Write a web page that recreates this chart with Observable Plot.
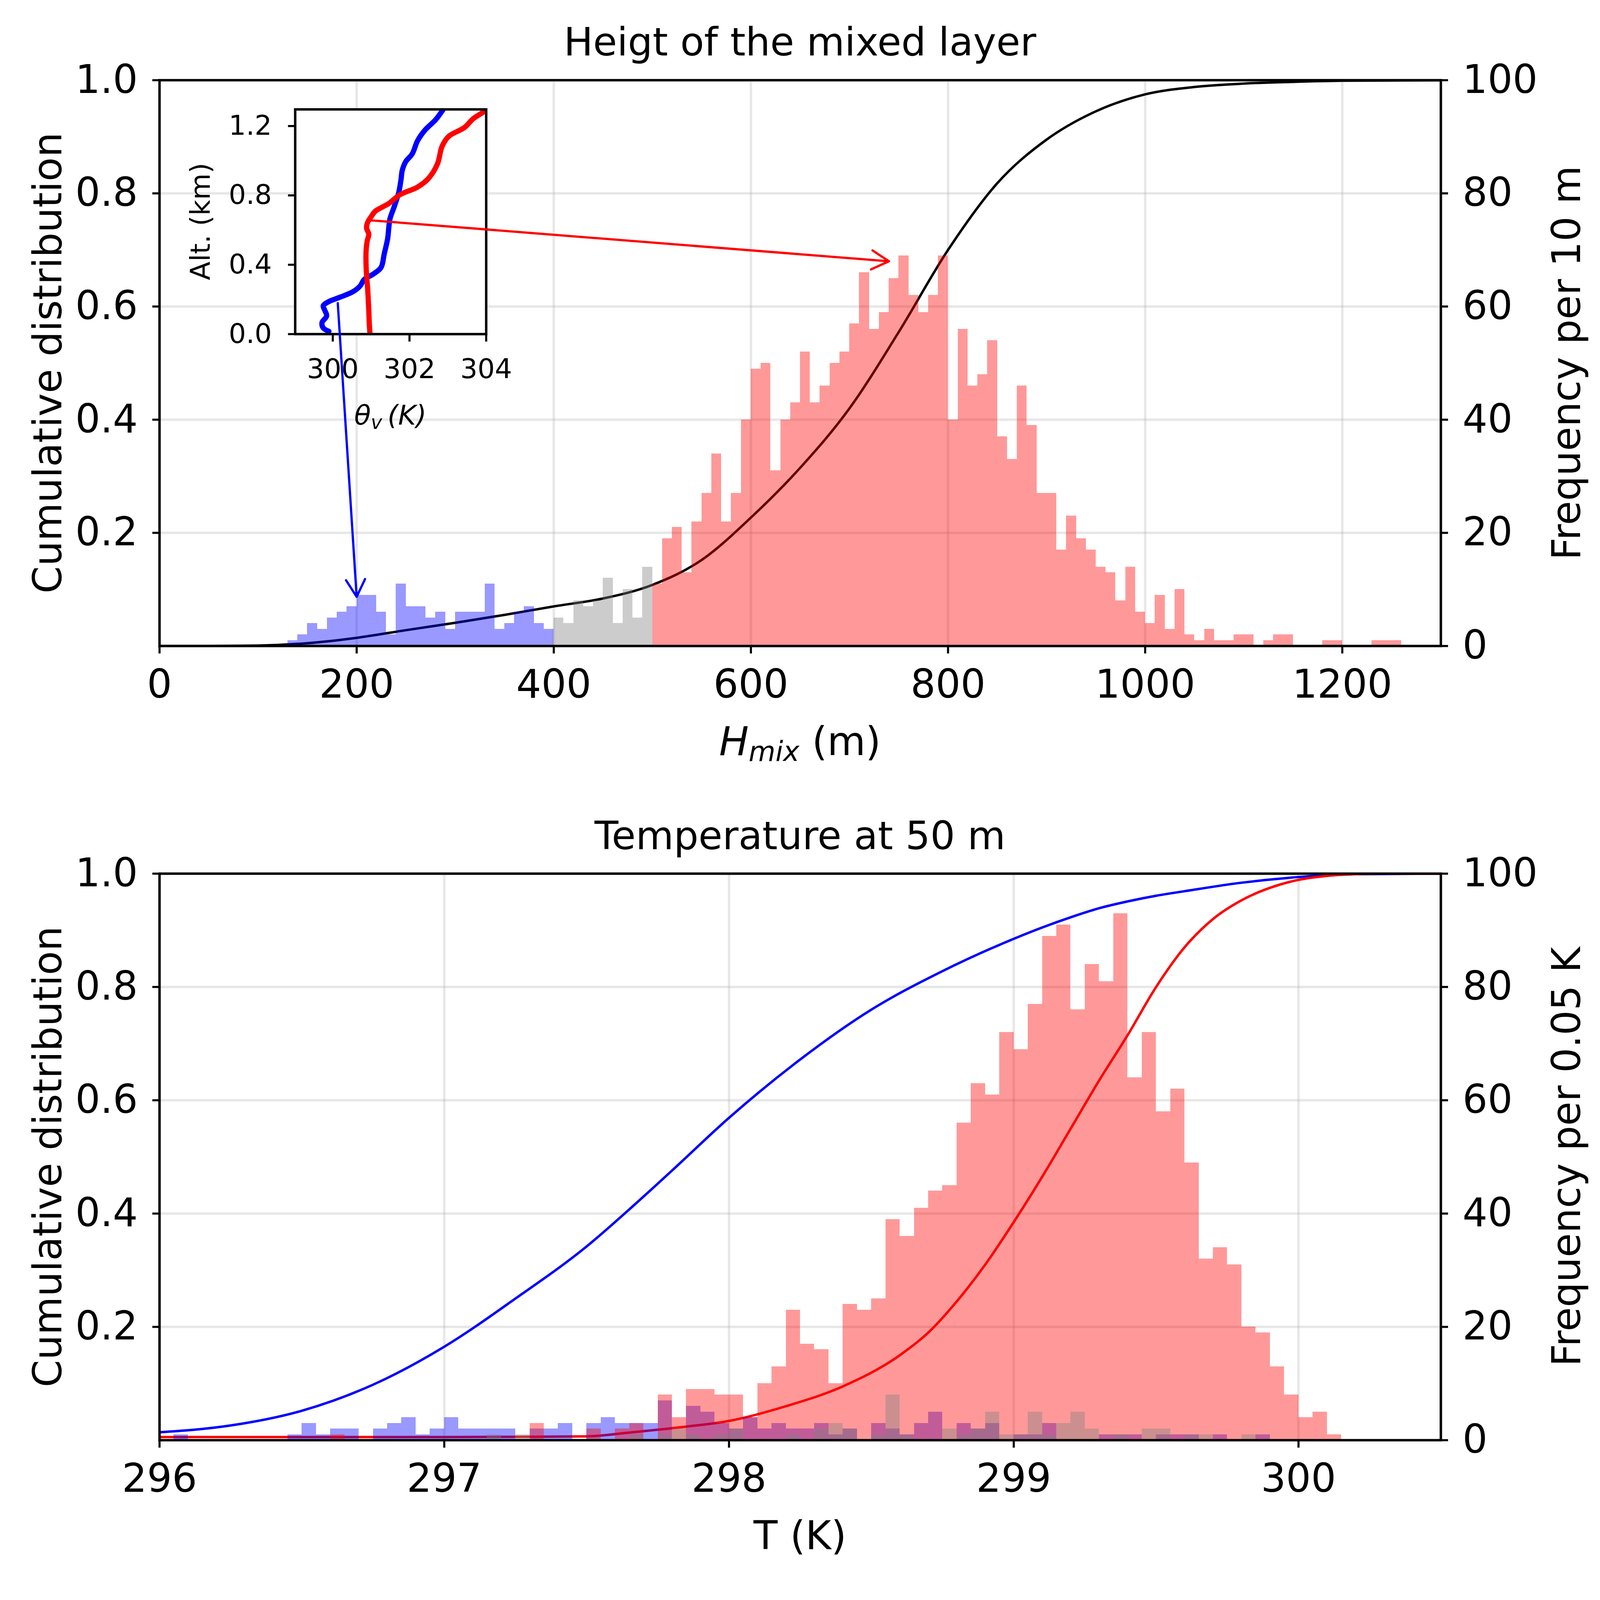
<!DOCTYPE html>
<html><head><meta charset="utf-8">
<script src="https://cdn.jsdelivr.net/npm/d3@7"></script>
<script src="https://cdn.jsdelivr.net/npm/@observablehq/plot@0.6"></script>
<style>
html,body{margin:0;padding:0;background:#fff;overflow:hidden;}
#fig{position:absolute;left:0;top:0;background:#fff;overflow:hidden;}
</style></head><body><div id="fig"></div>
<script>
// ---------------- DATA ----------------
// Top panel: mixed-layer height histograms (counts per 10 m bin)
const hmixBinWidth = 10;
const hmixBlueStart = 130;
const hmixBlueCounts = [1,2,4,3,5,6,7,9,9,6,2,11,7,7,5,6,3,6,6,6,11,3,4,6,7,4,3];
const hmixGrayStart = 400;
const hmixGrayCounts = [5,4,8,7,8,12,4,10,5,14];
const hmixRedStart = 500;
const hmixRedCounts = [11,19,21,13,22,27,34,22,27,40, 49,50,31,40,43,52,43,46,50,52,
  57,66,56,59,65,69,62,59,62,69, 40,56,46,48,54,37,33,46,39,27,
  27,17,23,19,17,14,13,8,14,6, 4,9,3,10,2,1,3,1,1,2,
  2,0,1,2,2,0,0,0,1,1, 0,0,0,1,1,1];
// Top panel: cumulative distribution (black)
const hmixCdfX = [0,50,100,150,200,250,300,350,400,450,500,550,600,650,700,750,800,850,900,950,1000,1050,1100,1150,1200,1300];
const hmixCdfY = [0,0,0.0008,0.005,0.0145,0.028,0.041,0.055,0.07,0.084,0.108,0.152,0.227,0.315,0.42,0.555,0.70,0.818,0.895,0.945,0.975,0.988,0.994,0.997,0.999,1.0];
const hmixTicks = [0,200,400,600,800,1000,1200];

// Inset: virtual potential temperature profiles (theta_v in K, altitude in km)
const profBlueTheta = [299.90,299.75,299.72,299.84,299.78,299.75,299.90,300.19,300.53,300.71,300.82,301.06,301.26,301.34,301.43,301.46,301.49,301.61,301.72,301.78,301.81,301.90,302.07,302.21,302.41,302.68,302.88];
const profBlueAlt   = [0.016,0.036,0.067,0.105,0.143,0.163,0.188,0.213,0.245,0.277,0.315,0.347,0.385,0.461,0.55,0.613,0.664,0.740,0.817,0.893,0.943,0.994,1.039,1.115,1.178,1.236,1.296];
const profRedTheta  = [300.97,300.95,300.94,300.91,300.87,300.87,300.90,300.94,300.88,300.91,301.0,301.11,301.46,301.75,302.21,302.50,302.73,302.85,303.02,303.43,303.66,303.92,304.0];
const profRedAlt    = [0.0,0.07,0.131,0.258,0.385,0.486,0.54,0.575,0.613,0.645,0.677,0.709,0.753,0.804,0.848,0.899,0.982,1.083,1.140,1.191,1.242,1.280,1.296];
const insetXTicks = [300,302,304];
const insetYTicks = [0,0.4,0.8,1.2];

// Annotation arrows: from inset point (theta, alt) to main-panel point (Hmix, cdf)
const arrowRedFrom = [301.03, 0.655], arrowRedTo = [740, 0.68];
const arrowBlueFrom = [300.13, 0.178], arrowBlueTo = [200, 0.087];

// Bottom panel: temperature histograms (counts per 0.05 K, bins from 296.00)
const tempBinStart = 296, tempBinWidth = 0.05;
const tempBlueCounts = [0,1,0,0,0,0,0,0,0,1, 3,1,2,2,0,2,3,4,1,2,
  4,2,2,2,2,0,2,2,3,0, 3,4,3,3,3,7,0,6,5,3,
  2,4,2,3,2,2,3,1,2,0, 3,2,1,3,5,0,3,2,3,0,
  1,1,3,0,0,0,1,1,1,0, 1,1,1,0,1,0,0,1,0,0, 0,0,0,0];
const tempRedCounts = [0,0,0,0,0,0,0,0,0,0, 0,0,1,0,0,0,0,0,0,0,
  0,0,0,0,0,0,3,0,0,0, 2,0,2,3,0,8,4,9,9,8,
  8,4,10,13,23,17,16,10,24,23, 25,39,36,41,44,45,56,63,61,72,
  69,77,89,91,76,84,81,93,64,72, 58,62,49,32,34,31,20,19,13,8, 4,5,1,0];
const tempGrayCounts = [0,0,0,0,0,0,0,0,0,0, 0,0,0,0,0,0,0,0,0,0,
  0,0,0,1,0,1,0,0,0,0, 0,0,0,1,0,1,2,1,0,1,
  2,0,0,0,1,0,2,3,2,0, 1,8,1,0,0,2,1,2,5,1,
  1,5,1,3,5,2,0,1,0,2, 2,0,1,1,0,0,1,0,0,0, 0,0,0,0];
// Bottom panel: cumulative distributions
const tempBlueCdfX = [296.0,296.25,296.5,296.75,297.0,297.25,297.5,297.66,297.8,298.0,298.25,298.5,298.75,299.0,299.1,299.2,299.3,299.4,299.5,299.6,299.8,300.0,300.2,300.5];
const tempBlueCdfY = [0.014,0.026,0.052,0.098,0.165,0.25,0.342,0.412,0.476,0.569,0.672,0.76,0.828,0.885,0.905,0.923,0.939,0.951,0.961,0.969,0.984,0.994,0.999,1.0];
const tempRedCdfX = [296.0,296.5,297.0,297.3,297.5,297.66,297.85,298.0,298.2,298.4,298.6,298.7,298.8,298.9,299.0,299.1,299.2,299.3,299.4,299.5,299.6,299.7,299.8,299.9,300.0,300.1,300.2,300.3,300.5];
const tempRedCdfY = [0.0055,0.0055,0.0056,0.006,0.0068,0.014,0.024,0.034,0.06,0.095,0.15,0.19,0.245,0.31,0.385,0.465,0.55,0.635,0.715,0.80,0.87,0.92,0.953,0.975,0.989,0.996,0.999,1.0,1.0];
const tempTicks = [296,297,298,299,300];

const cdfTicks = [0.2,0.4,0.6,0.8,1.0];
const freqTicks = [0,0.2,0.4,0.6,0.8,1.0];

// ---------------- LAYOUT (design units 4800 x 4400, fitted to the window) ----------------
const fig = document.getElementById("fig");
const VW = window.innerWidth || document.documentElement.clientWidth || 4800;
const VH = window.innerHeight || document.documentElement.clientHeight || 4400;
const sx = VW/4800, sy = VH/4400, sf = Math.sqrt(sx*sy);
fig.style.width = VW+"px"; fig.style.height = VH+"px";
const X = v => v*sx, Y = v => v*sy, F = v => v*sf;

const FONT = "DejaVu Sans";
const GRID = {stroke:"#b0b0b0", strokeOpacity:0.3, strokeWidth:F(7)};
function tickX(fs){ return {tickSize:Y(21), tickPadding:Y(44), fontSize:F(fs), strokeWidth:F(6), label:null}; }
function tickY(fs){ return {tickSize:X(21), tickPadding:X(44), fontSize:F(fs), strokeWidth:F(6), label:null}; }

function bins(start, width, counts){
  return counts.map((c,i)=>({x1:start+i*width, x2:start+(i+1)*width, f:c/100})).filter(d=>d.f>0);
}
function pts(xs, ys){ return xs.map((x,i)=>({x, y:ys[i]})); }
function hist(data, color){
  return Plot.rect(data,{x1:"x1",x2:"x2",y1:0,y2:"f",fill:color,fillOpacity:0.4,inset:0,shapeRendering:"crispEdges"});
}
function place(el, left, top){
  el.style.position="absolute"; el.style.left=left+"px"; el.style.top=top+"px";
  el.style.overflow="visible";
  fig.appendChild(el); return el;
}
const svgStyle = {background:"transparent", fontFamily:FONT, overflow:"visible", color:"black"};

const PANEL_H = 2000;
function mainPanel({xDomain, xTicks, xGrid, lines, hists, mTop, mBottom}){
  return Plot.plot({
    width:VW, height:Y(PANEL_H), marginLeft:X(478), marginRight:X(478), marginTop:Y(mTop), marginBottom:Y(mBottom),
    x:{domain:xDomain}, y:{domain:[0,1]},
    style:svgStyle,
    marks:[
      Plot.gridX(xGrid, GRID),
      Plot.gridY([0.2,0.4,0.6,0.8], GRID),
      ...lines.map(l=>Plot.line(pts(l.x,l.y),{x:"x",y:"y",stroke:l.color,strokeWidth:F(7),curve:"monotone-x",clip:true})),
      ...hists.map(h=>hist(h.data,h.color)),
      Plot.axisX({...tickX(113), ticks:xTicks, tickFormat:d=>String(d)}),
      Plot.axisY({...tickY(113), anchor:"left", ticks:cdfTicks, tickFormat:d=>d.toFixed(1)}),
      Plot.axisY({...tickY(113), anchor:"right", ticks:freqTicks, tickFormat:d=>String(Math.round(d*100))}),
      Plot.frame({stroke:"black", strokeWidth:F(7)})
    ]
  });
}

// ---------------- TOP PANEL ----------------
const TOP_Y = 0;
const topPlot = mainPanel({
  xDomain:[0,1300], xTicks:hmixTicks, xGrid:hmixTicks.filter(d=>d>0),
  lines:[{x:hmixCdfX, y:hmixCdfY, color:"black"}],
  hists:[
    {data:bins(hmixBlueStart,hmixBinWidth,hmixBlueCounts), color:"blue"},
    {data:bins(hmixGrayStart,hmixBinWidth,hmixGrayCounts), color:"gray"},
    {data:bins(hmixRedStart,hmixBinWidth,hmixRedCounts), color:"red"}
  ],
  mTop:220, mBottom:224
});
place(topPlot, 0, Y(TOP_Y));

// ---------------- INSET ----------------
const INSET_L = X(600), INSET_T = Y(250);
const insetPlot = Plot.plot({
  width:X(900), height:Y(850), marginLeft:X(285), marginRight:X(42), marginTop:Y(50), marginBottom:Y(182),
  x:{domain:[299.02,304]}, y:{domain:[0,1.296]},
  style:svgStyle,
  marks:[
    Plot.frame({fill:"white", stroke:"none"}),
    Plot.line(pts(profBlueTheta,profBlueAlt),{x:"x",y:"y",stroke:"blue",strokeWidth:F(15),curve:"catmull-rom",clip:true}),
    Plot.line(pts(profRedTheta,profRedAlt),{x:"x",y:"y",stroke:"red",strokeWidth:F(15),curve:"catmull-rom",clip:true}),
    Plot.axisX({...tickX(78), tickPadding:Y(47), ticks:insetXTicks, tickFormat:d=>String(d)}),
    Plot.axisY({...tickY(78), tickPadding:X(49), ticks:insetYTicks, tickFormat:d=>d.toFixed(1)}),
    Plot.frame({stroke:"black", strokeWidth:F(7)})
  ]
});
place(insetPlot, INSET_L, INSET_T);

// ---------------- BOTTOM PANEL ----------------
const BOT_Y = 2200;
const botPlot = mainPanel({
  xDomain:[296,300.5], xTicks:tempTicks, xGrid:tempTicks.filter(d=>d>296),
  lines:[{x:tempBlueCdfX, y:tempBlueCdfY, color:"blue"},{x:tempRedCdfX, y:tempRedCdfY, color:"red"}],
  hists:[
    {data:bins(tempBinStart,tempBinWidth,tempBlueCounts), color:"blue"},
    {data:bins(tempBinStart,tempBinWidth,tempRedCounts), color:"red"},
    {data:bins(tempBinStart,tempBinWidth,tempGrayCounts), color:"gray"}
  ],
  mTop:202, mBottom:240
});
place(botPlot, 0, Y(BOT_Y));

// ---------------- ARROWS (overlay in top-panel coordinates) ----------------
const tx = topPlot.scale("x"), ty = topPlot.scale("y");
const ix = insetPlot.scale("x"), iy = insetPlot.scale("y");
function fromInset([th, alt]){
  return [tx.invert(INSET_L + ix.apply(th)), ty.invert(INSET_T + iy.apply(alt) - Y(TOP_Y))];
}
const rF = fromInset(arrowRedFrom), bF = fromInset(arrowBlueFrom);
const arrowOpts = {x1:"x1",y1:"y1",x2:"x2",y2:"y2",strokeWidth:F(6.5),headLength:13,headAngle:58,strokeLinecap:"round",strokeLinejoin:"round"};
const arrowPlot = Plot.plot({
  width:VW, height:Y(PANEL_H), marginLeft:X(478), marginRight:X(478), marginTop:Y(220), marginBottom:Y(224),
  x:{domain:[0,1300], axis:null}, y:{domain:[0,1], axis:null},
  style:svgStyle,
  marks:[
    Plot.arrow([{x1:rF[0],y1:rF[1],x2:arrowRedTo[0],y2:arrowRedTo[1]}],{...arrowOpts, stroke:"red"}),
    Plot.arrow([{x1:bF[0],y1:bF[1],x2:arrowBlueTo[0],y2:arrowBlueTo[1]}],{...arrowOpts, stroke:"blue"})
  ]
});
place(arrowPlot, 0, Y(TOP_Y));

// ---------------- TEXT LABELS ----------------
const T = d3.create("svg").attr("width",VW).attr("height",VH)
  .attr("font-family",FONT).attr("fill","black")
  .style("position","absolute").style("left","0px").style("top","0px").style("overflow","visible");
function txt(x,y,s,size,rot){
  const t = T.append("text").attr("text-anchor","middle").attr("font-size",F(size));
  if (rot) t.attr("transform",`translate(${X(x)},${Y(y)}) rotate(${rot})`);
  else t.attr("x",X(x)).attr("y",Y(y));
  t.text(s); return t;
}
// top panel
txt(2400,153,"Heigt of the mixed layer",112);
{
  const t = T.append("text").attr("x",X(2400)).attr("y",Y(2076)).attr("text-anchor","middle").attr("font-size",F(113));
  t.append("tspan").attr("font-style","italic").text("H");
  t.append("tspan").attr("font-style","italic").attr("font-size",F(79)).attr("dy",F(17)).text("mix");
  t.append("tspan").attr("dy",-F(17)).text("\u00a0(m)");
}
txt(184,998,"Cumulative distribution",113,-90);
txt(4740,998,"Frequency per 10 m",113,-90);
// inset
txt(629,609,"Alt. (km)",78,-90);
{
  const t = T.append("text").attr("x",X(1171)).attr("y",Y(1168)).attr("text-anchor","middle").attr("font-size",F(78)).attr("font-style","italic");
  t.append("tspan").text("\u03b8");
  t.append("tspan").attr("font-size",F(55)).attr("dy",F(12)).text("v");
  t.append("tspan").attr("dy",-F(12)).text("\u2009(K)");
}
// bottom panel
txt(2400,2335,"Temperature at 50 m",112);
txt(2400,4260,"T (K)",113);
txt(184,3181,"Cumulative distribution",113,-90);
txt(4740,3181,"Frequency per 0.05 K",113,-90);
fig.appendChild(T.node());
</script></body></html>
